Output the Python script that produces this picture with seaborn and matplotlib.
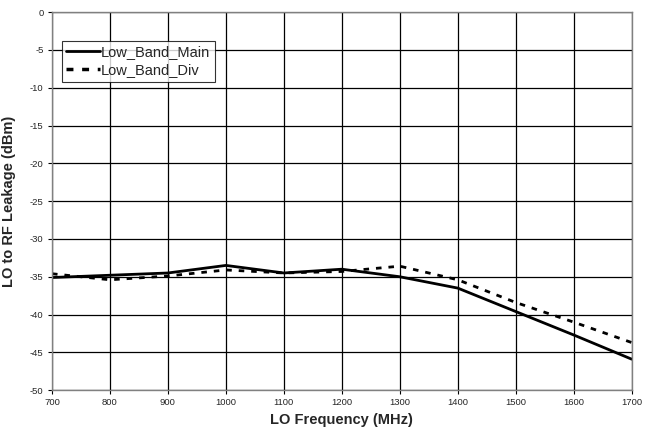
import numpy as np
import matplotlib
matplotlib.use('Agg')
import matplotlib.pyplot as plt
import pandas as pd
import seaborn as sns

freq = [700, 800, 900, 1000, 1100, 1200, 1300, 1400, 1500, 1600, 1700]
low_band_main = [-35.1, -34.8, -34.5, -33.5, -34.5, -34.0, -35.0, -36.5, -39.6, -42.7, -45.9]
low_band_div = [-34.6, -35.4, -34.9, -34.1, -34.5, -34.3, -33.6, -35.4, -38.4, -41.0, -43.7]

df = pd.DataFrame({'freq': freq, 'Low_Band_Main': low_band_main, 'Low_Band_Div': low_band_div})
long = df.melt(id_vars='freq', var_name='series', value_name='leak')

sns.set_style('white')
plt.rcParams['font.family'] = ['Liberation Sans', 'DejaVu Sans']
plt.rcParams['axes.unicode_minus'] = False

fig = plt.figure(figsize=(6.58, 4.34), dpi=100)
ax = fig.add_axes([0.079, 0.101, 0.881, 0.871])

sns.lineplot(data=long, x='freq', y='leak', hue='series', style='series',
             palette=['black', 'black'], dashes=[(None, None), (2, 2.5)],
             linewidth=2, ax=ax, legend=False)

h1, = ax.plot([], [], color='black', lw=2, label='Low_Band_Main')
h2, = ax.plot([], [], color='black', lw=2.5, ls=(0, (2, 2.5)), label='Low_Band_Div')

ax.set_xlim(700, 1700)
ax.set_ylim(-50, 0)
ax.set_xticks(np.arange(700, 1701, 100))
ax.set_yticks(np.arange(-50, 1, 5))
ax.grid(True, color='black', linewidth=0.9)
for s in ax.spines.values():
    s.set_color('#808080')
    s.set_linewidth(1)
ax.tick_params(axis='both', labelsize=6.8, length=3, color='black', direction='out', pad=3)
ax.tick_params(left=True, bottom=True)

ax.set_xlabel('LO Frequency (MHz)', fontsize=10.5, fontweight='bold', labelpad=4)
ax.set_ylabel('LO to RF Leakage (dBm)', fontsize=10.5, fontweight='bold', labelpad=10)

leg = ax.legend(handles=[h1, h2], loc='upper left', bbox_to_anchor=(0.017, 0.925),
                fontsize=10.5, frameon=True, fancybox=False, handlelength=2.3,
                borderpad=0.3, labelspacing=0.3, handletextpad=0.1, borderaxespad=0)
leg.get_frame().set_edgecolor('black')
leg.get_frame().set_linewidth(0.8)

fig.savefig('out.png', dpi=100)
